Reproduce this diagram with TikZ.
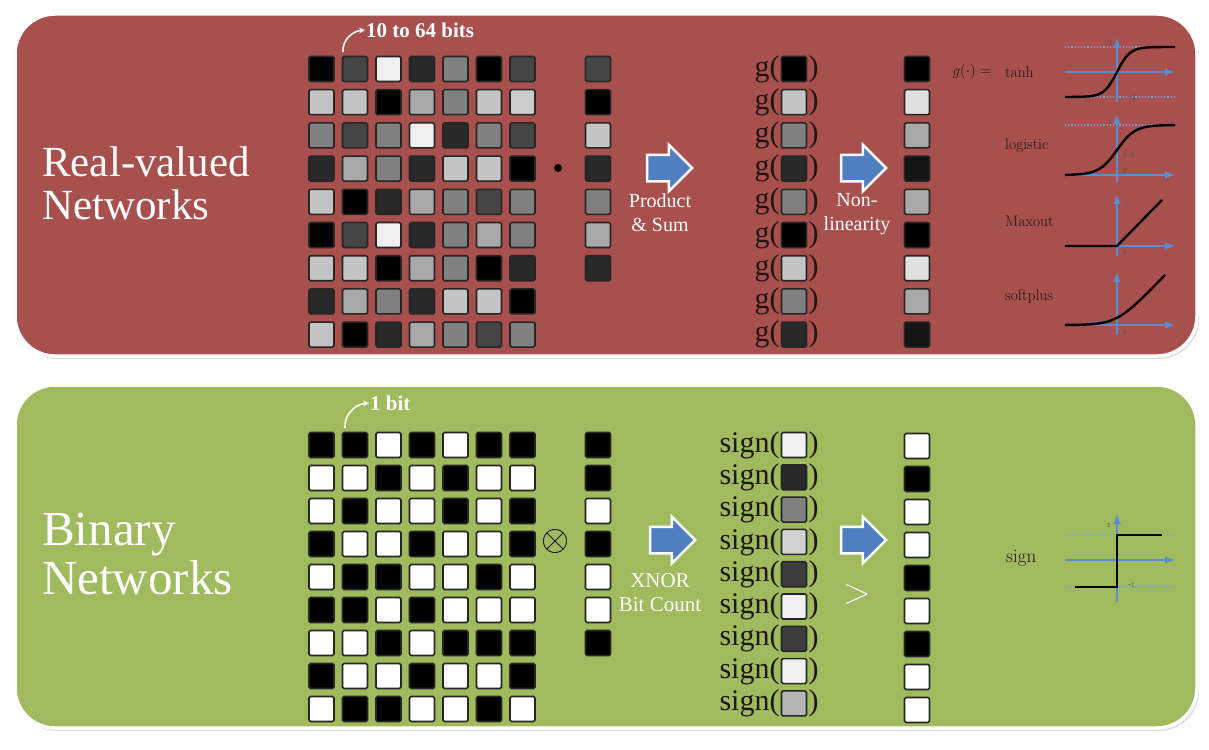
\RequirePackage{fix-cm}
\documentclass[tikz,border=0pt]{standalone}
\usepackage{fontspec}
\setmainfont{Liberation Serif}
\usetikzlibrary{calc}
\usetikzlibrary{arrows}
\usetikzlibrary{positioning}
\usetikzlibrary{shapes.arrows}

\newcommand\cmfont{\fontfamily{lmr}\selectfont}
\definecolor{panelred}{HTML}{A8504D}
\definecolor{panelgreen}{HTML}{A0BA5E}
\definecolor{axisblue}{HTML}{5B8CD2}
\definecolor{arrowblue}{HTML}{4F7FC0}
\definecolor{inkdark}{HTML}{1E1614}

\begin{document}
\begin{tikzpicture}[x=1pt,y=-1pt,
  panel/.style={draw=white,line width=3.5pt,rounded corners=40pt},
  cell/.style={draw=black!85,line width=1.6pt,rounded corners=1.5pt,minimum size=25pt,inner sep=0pt},
  blockarrow/.style={single arrow,fill=arrowblue,draw=white,line width=2.5pt,minimum height=45pt,minimum width=45pt,single arrow head extend=10pt,inner sep=0pt,text height=12pt,text depth=12pt},
  title/.style={text=white,align=left,inner sep=0pt,anchor=north west},
  lbl/.style={text=white,align=center,inner sep=0pt,font=\fontsize{20}{24}\selectfont},
  bits/.style={text=white,inner sep=1pt,anchor=west,font=\bfseries\fontsize{21}{21}\selectfont},
  bitarrow/.style={white,line width=1.6pt,->,>=stealth},
  fn/.style={text=inkdark,inner sep=1pt,font=\fontsize{30}{30}\selectfont},
  fname/.style={text=inkdark,inner sep=0pt,anchor=west,font=\cmfont\fontsize{15.5}{15.5}\selectfont},
  guide/.style={axisblue!80,dotted,line width=1.2pt},
  axis/.style={axisblue,line width=2.4pt,-latex},
  curve/.style={black,line width=2.4pt},
  tick/.style={text=black!70,inner sep=0pt,font=\ttfamily\fontsize{7}{7}\selectfont}]

\useasboundingbox (0,0) rectangle (1209,749);
\fill[white] (0,0) rectangle (1209,749);

%panels
\fill[black!12,rounded corners=40pt] (17,17) rectangle (1199,359);
\draw[panel,fill=panelred] (15,14) rectangle (1197,356);
\fill[black!12,rounded corners=40pt] (17,388) rectangle (1199,731);
\draw[panel,fill=panelgreen] (15,385) rectangle (1197,728);

\node[title,font=\fontsize{43}{43}\selectfont] (rtitle) at (42,146) {Real-valued\\Networks};
\node[title,font=\fontsize{49}{49}\selectfont] (btitle) at (42,513) {Binary\\Networks};

%real-valued weights
\foreach \row [count=\j] in {{100,73,6,84,50,100,73},{23,23,100,34,50,23,20},{50,73,50,6,84,50,73},
  {84,34,50,84,23,23,100},{23,100,84,34,50,73,50},{100,73,6,84,50,34,50},
  {23,23,100,34,50,100,84},{84,34,50,84,23,23,100},{23,100,84,34,50,73,50}}
  \foreach \v [count=\i] in \row
    \node[cell,fill=black!\v] (rw-\j-\i) at ({321.5+33.5*(\i-1)},{69+33.2*(\j-1)}) {};

\coordinate (rq) at (343,52);
\node[bits] (rb) at (365,30) {10 to 64 bits};
\draw[bitarrow] (rq) to[out=95,in=185] (rb.west);

\node[circle,fill=black,minimum size=8pt,inner sep=0pt] (rdot) at (558,168) {};
\foreach \v [count=\k] in {73,100,23,84,50,34,84}
  \node[cell,fill=black!\v] (rx-\k) at (598,{69+33.2*(\k-1)}) {};

\node[blockarrow] (pa) at (663,168) {};
\node[lbl,below=25pt of pa.center,xshift=-3pt] (pl) {Product\\\& Sum};

\foreach \v [count=\k] in {100,23,50,84,50,100,23,50,84} {
  \node[cell,fill=black!\v] (rg-\k) at (794,{69+33.2*(\k-1)}) {};
  \node[fn,anchor=east] (rgl-\k) at (rg-\k.west) {g(};
  \node[fn,anchor=west] (rgr-\k) at (rg-\k.east) {)};
}

\node[blockarrow] (na) at (857,168) {};
\node[lbl,below=25pt of na.center] (nl) {Non-\\linearity};

\foreach \v [count=\k] in {100,12,34,92,34,100,12,34,92}
  \node[cell,fill=black!\v] (ry-\k) at (917,{69+33.2*(\k-1)}) {};

%activation functions
\node[text=inkdark,inner sep=0pt,font=\fontsize{15}{15}\selectfont] (geq) at (972,72) {$g(\cdot) =$};
\node[fname] (ftanh) at (1005,72) {tanh};
\node[fname] (flog) at (1005,146) {logistic};
\node[fname] (fmax) at (1005,221) {Maxout};
\node[fname] (fsoft) at (1005,297) {softplus};

\begin{scope}[shift={(1117,72)}]
\draw[guide] (-52,-25)--(60,-25) (-52,25)--(60,25);
\draw[axis] (-52,0)--(58,0);
\draw[axis] (0,30)--(0,-34);
\draw[curve] plot[domain=-52:58,samples=60] (\x,{-25*tanh(\x/13)});
\node[tick] (tt1) at (-6,-29) {1};
\node[tick] (tt2) at (15,25) {-1};
\end{scope}

\begin{scope}[shift={(1117,175)}]
\draw[guide] (-52,-50)--(60,-50);
\draw[axis] (-52,0)--(58,0);
\draw[axis] (0,7)--(0,-61);
\draw[curve] plot[domain=-52:58,samples=60] (\x,{-50/(1+exp(-\x/9))});
\node[tick] (tl1) at (-7,-53) {1};
\node[tick] (tl2) at (12,-20) {0.5};
\node[tick] (tl3) at (8,-4) {0};
\end{scope}

\begin{scope}[shift={(1117,246)}]
\draw[axis] (-52,0)--(58,0);
\draw[axis] (0,10)--(0,-52);
\draw[curve] (-52,0)--(0,0)--(45,-46);
\node[tick] (tm1) at (8,6) {0};
\end{scope}

\begin{scope}[shift={(1117,325)}]
\draw[axis] (-52,0)--(58,0);
\draw[axis] (0,10)--(0,-53);
\draw[curve] plot[domain=-52:48,samples=60] (\x,{-10.4*ln(1+exp(\x/10))});
\node[tick] (ts1) at (8,7) {0};
\end{scope}

%binary weights
\foreach \row [count=\j] in {{100,100,0,100,0,100,100},{0,0,100,0,100,0,0},{0,100,0,0,100,0,100},
  {100,0,0,100,0,0,100},{0,100,100,0,0,100,0},{100,100,0,100,0,0,0},
  {0,0,100,0,100,100,100},{100,0,0,100,0,0,100},{0,100,100,0,0,100,0}}
  \foreach \v [count=\i] in \row
    \node[cell,fill=black!\v] (bw-\j-\i) at ({321.5+33.5*(\i-1)},{445+33*(\j-1)}) {};

\coordinate (bq) at (345,428);
\node[bits] (bb) at (369,403) {1 bit};
\draw[bitarrow] (bq) to[out=95,in=185] (bb.west);

\node[inner sep=0pt,font=\fontsize{36}{36}\selectfont] (botimes) at (555,541) {$\otimes$};
\foreach \v [count=\k] in {100,100,0,100,0,0,100}
  \node[cell,fill=black!\v] (bx-\k) at (598,{445+33*(\k-1)}) {};

\node[blockarrow] (xa) at (666,540) {};
\node[lbl,font=\fontsize{21}{24}\selectfont,below=33pt of xa.center,xshift=-6pt] (xl) {XNOR\\Bit Count};

\foreach \v [count=\k] in {6,84,50,18,76,6,76,6,29} {
  \node[cell,fill=black!\v] (bs-\k) at (794,{445+32.3*(\k-1)}) {};
  \node[fn,anchor=east] (bsl-\k) at (bs-\k.west) {sign(};
  \node[fn,anchor=west] (bsr-\k) at (bs-\k.east) {)};
}

\node[blockarrow] (sa) at (857,540) {};
\node[text=white,inner sep=0pt,font=\fontsize{36}{36}\selectfont,below=44pt of sa.center] (gt) {$>$};

\foreach \v [count=\k] in {0,100,0,0,100,0,100,0,0}
  \node[cell,fill=black!\v] (by-\k) at (917,{446+33*(\k-1)}) {};

\node[fname,font=\cmfont\fontsize{19}{19}\selectfont] (fsign) at (1006,558) {sign};
\begin{scope}[shift={(1117,560)}]
\draw[guide] (-52,-25)--(60,-25) (-52,27)--(60,27);
\draw[axis] (-52,0)--(58,0);
\draw[axis] (0,42)--(0,-46);
\draw[curve] (-42,27)--(0,27)--(0,-25)--(45,-25);
\node[tick] (tg1) at (-8,-35) {1};
\node[tick] (tg2) at (14,25) {-1};
\end{scope}

\end{tikzpicture}
\end{document}
